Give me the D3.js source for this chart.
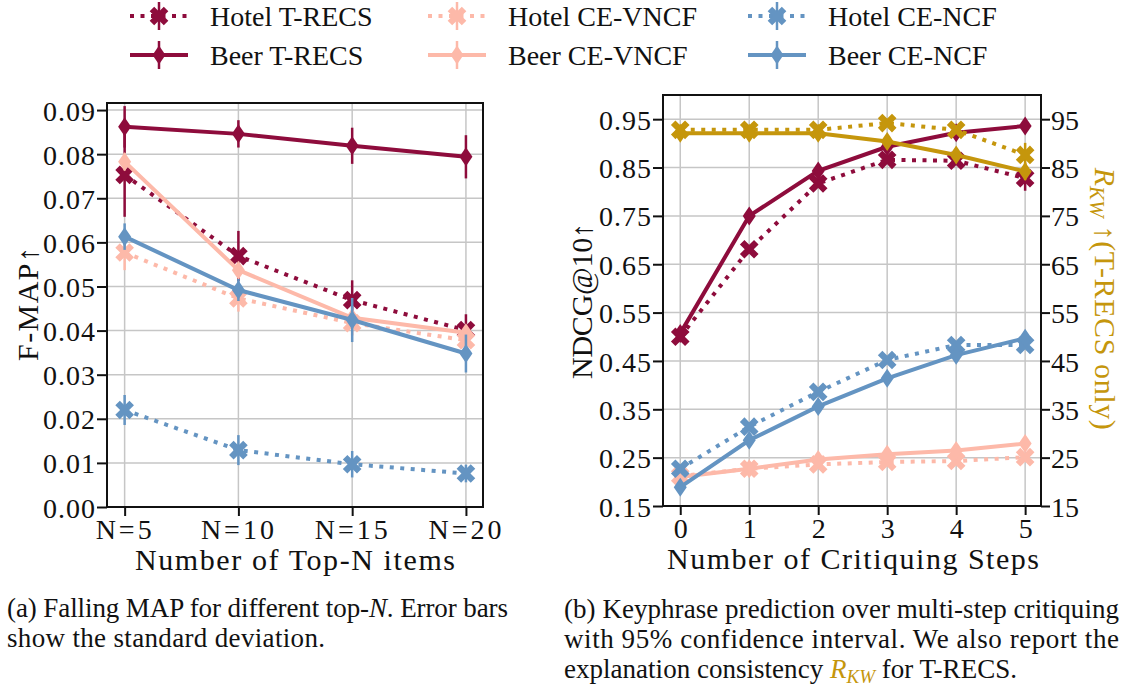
<!DOCTYPE html>
<html>
<head>
<meta charset="utf-8">
<script src="https://cdn.jsdelivr.net/npm/d3@7"></script>
<style>
  body { margin: 0; background: #fff; }
  svg { display: block; }
  text { font-family: "Liberation Serif", "DejaVu Serif", serif; fill: #111; }
  .cap { font-family: "Liberation Serif", serif; font-size: 27px; }
</style>
</head>
<body>
<svg id="chart" width="1130" height="690"></svg>
<script>
var RED = "#8e0c3c"
var PINK = "#fdb9a9"
var BLUE = "#6494c2"
var GOLD = "#c5960c"

// left panel: F-MAP by top-N
var topN = ["N=5", "N=10", "N=15", "N=20"]
var mapHotelTrecs = [0.0753, 0.0569, 0.0469, 0.0401]
var mapHotelTrecsSd = [0.0095, 0.0057, 0.0045, 0.0036]
var mapBeerTrecs = [0.0862, 0.0846, 0.0819, 0.0794]
var mapBeerTrecsSd = [0.0047, 0.0031, 0.0041, 0.0049]
var mapHotelVncf = [0.0577, 0.0473, 0.0417, 0.0378]
var mapHotelVncfSd = [0.0040, 0.0030, 0.0028, 0.0022]
var mapBeerVncf = [0.0783, 0.0537, 0.0429, 0.0395]
var mapBeerVncfSd = [0.0020, 0.0015, 0.0015, 0.0012]
var mapHotelNcf = [0.0220, 0.0129, 0.0097, 0.0076]
var mapHotelNcfSd = [0.0034, 0.0034, 0.0030, 0.0020]
var mapBeerNcf = [0.0613, 0.0492, 0.0424, 0.0348]
var mapBeerNcfSd = [0.0030, 0.0025, 0.0050, 0.0043]
var mapTicks = [0.00, 0.01, 0.02, 0.03, 0.04, 0.05, 0.06, 0.07, 0.08, 0.09]

// right panel: NDCG@10 over critiquing steps
var steps = [0, 1, 2, 3, 4, 5]
var ndcgHotelTrecs = [0.500, 0.681, 0.817, 0.866, 0.864, 0.828]
var ndcgHotelTrecsCi = [0.008, 0.008, 0.008, 0.008, 0.008, 0.026]
var ndcgBeerTrecs = [0.507, 0.750, 0.843, 0.893, 0.922, 0.936]
var ndcgBeerTrecsCi = [0.006, 0.006, 0.006, 0.006, 0.006, 0.008]
var ndcgHotelVncf = [0.212, 0.227, 0.236, 0.241, 0.243, 0.251]
var ndcgHotelVncfCi = [0.006, 0.006, 0.006, 0.006, 0.006, 0.006]
var ndcgBeerVncf = [0.210, 0.227, 0.246, 0.257, 0.265, 0.279]
var ndcgBeerVncfCi = [0.005, 0.005, 0.005, 0.005, 0.005, 0.006]
var ndcgHotelNcf = [0.227, 0.314, 0.386, 0.452, 0.483, 0.483]
var ndcgHotelNcfCi = [0.006, 0.008, 0.008, 0.008, 0.008, 0.008]
var ndcgBeerNcf = [0.189, 0.286, 0.356, 0.414, 0.462, 0.497]
var ndcgBeerNcfCi = [0.008, 0.008, 0.008, 0.008, 0.008, 0.008]
var rkwHotel = [92.8, 92.8, 92.8, 94.2, 92.8, 87.6]
var rkwHotelCi = [0.5, 0.5, 0.5, 0.8, 0.8, 2.5]
var rkwBeer = [92.1, 92.1, 92.1, 90.4, 87.6, 84.2]
var rkwBeerCi = [0.5, 0.5, 0.5, 0.6, 0.8, 1.8]
var ndcgTicks = [0.15, 0.25, 0.35, 0.45, 0.55, 0.65, 0.75, 0.85, 0.95]
var rkwTicks = [15, 25, 35, 45, 55, 65, 75, 85, 95]

var legendItems = [
  {label: "Hotel T-RECS", color: RED, dotted: true},
  {label: "Beer T-RECS", color: RED, dotted: false},
  {label: "Hotel CE-VNCF", color: PINK, dotted: true},
  {label: "Beer CE-VNCF", color: PINK, dotted: false},
  {label: "Hotel CE-NCF", color: BLUE, dotted: true},
  {label: "Beer CE-NCF", color: BLUE, dotted: false}
]

var svg = d3.select("#chart")

// markers: thin diamond for Beer, filled X for Hotel
var diamondPath = "M0,-9.5L6.5,0L0,9.5L-6.5,0Z"
var xPath = (function() {
  var a = 3.2, s = 10
  var pts = [[-a,-s],[a,-s],[a,-a],[s,-a],[s,a],[a,a],[a,s],[-a,s],[-a,a],[-s,a],[-s,-a],[-a,-a]]
  var r = Math.SQRT1_2
  return "M" + pts.map(function(p) { return [(p[0]-p[1])*r, (p[0]+p[1])*r].join(",") }).join("L") + "Z"
})()

var drawSeries = function(g, x, y, xs, vals, errs, color, dotted) {
  var pts = xs.map(function(d, i) { return {x: d, v: vals[i], e: errs[i]} })
  g.append("path")
    .datum(pts)
    .attr("fill", "none")
    .attr("stroke", color)
    .attr("stroke-width", 4)
    .attr("stroke-dasharray", dotted ? "4,6.5" : null)
    .attr("d", d3.line().x(function(d) { return x(d.x) }).y(function(d) { return y(d.v) }))
  g.selectAll(null).data(pts).enter().append("line")
    .attr("x1", function(d) { return x(d.x) })
    .attr("x2", function(d) { return x(d.x) })
    .attr("y1", function(d) { return y(d.v - d.e) })
    .attr("y2", function(d) { return y(d.v + d.e) })
    .attr("stroke", color)
    .attr("stroke-width", 2.5)
  g.selectAll(null).data(pts).enter().append("path")
    .attr("transform", function(d) { return "translate(" + x(d.x) + "," + y(d.v) + ")" })
    .attr("d", dotted ? xPath : diamondPath)
    .attr("fill", color)
}

var drawFrame = function(x, y, xTicks, xFmt, yTicks, yFmt) {
  var x0 = x.range()[0], x1 = x.range()[1], y0 = y.range()[0], y1 = y.range()[1]
  var grid = svg.append("g").attr("stroke", "#c6c6c6").attr("stroke-width", 1.5)
  xTicks.forEach(function(t) {
    grid.append("line").attr("x1", x(t)).attr("x2", x(t)).attr("y1", y0).attr("y2", y1)
  })
  yTicks.forEach(function(t) {
    grid.append("line").attr("x1", x0).attr("x2", x1).attr("y1", y(t)).attr("y2", y(t))
  })
  var xAxis = d3.axisBottom(x).tickValues(xTicks).tickFormat(xFmt).tickSize(9).tickPadding(1)
  var yAxis = d3.axisLeft(y).tickValues(yTicks).tickFormat(yFmt).tickSize(10).tickPadding(1)
  var gx = svg.append("g").attr("transform", "translate(0," + y0 + ")").call(xAxis)
  var gy = svg.append("g").attr("transform", "translate(" + x0 + ",0)").call(yAxis)
  ;[gx, gy].forEach(function(a) {
    a.select(".domain").remove()
    a.selectAll("line").attr("stroke", "#111").attr("stroke-width", 2)
    a.selectAll("text").attr("font-size", 28).attr("fill", "#111")
      .style("font-family", "'Liberation Serif', serif")
  })
  gx.selectAll("text").attr("dy", "0.78em")
  gy.selectAll("text").attr("dy", "0.36em").style("letter-spacing", "1px")
  return {gx: gx, gy: gy}
}

var drawBox = function(x, y) {
  svg.append("rect")
    .attr("x", x.range()[0]).attr("y", y.range()[1])
    .attr("width", x.range()[1] - x.range()[0])
    .attr("height", y.range()[0] - y.range()[1])
    .attr("fill", "none").attr("stroke", "#111").attr("stroke-width", 2)
}

// ---- left panel
var xL = d3.scaleLinear().domain([-0.155, 3.15]).range([107, 483])
var yL = d3.scaleLinear().domain([0, 0.0916]).range([507, 103])
var idx = topN.map(function(d, i) { return i })
var frL = drawFrame(xL, yL, idx, function(d) { return topN[d] }, mapTicks, d3.format(".2f"))
frL.gx.selectAll("text").style("letter-spacing", "3px")
var gL = svg.append("g")
drawSeries(gL, xL, yL, idx, mapHotelTrecs, mapHotelTrecsSd, RED, true)
drawSeries(gL, xL, yL, idx, mapBeerTrecs, mapBeerTrecsSd, RED, false)
drawSeries(gL, xL, yL, idx, mapHotelVncf, mapHotelVncfSd, PINK, true)
drawSeries(gL, xL, yL, idx, mapBeerVncf, mapBeerVncfSd, PINK, false)
drawSeries(gL, xL, yL, idx, mapHotelNcf, mapHotelNcfSd, BLUE, true)
drawSeries(gL, xL, yL, idx, mapBeerNcf, mapBeerNcfSd, BLUE, false)
drawBox(xL, yL)

svg.append("text")
  .attr("x", 295).attr("y", 570)
  .attr("text-anchor", "middle").attr("font-size", 30)
  .attr("textLength", 320).attr("lengthAdjust", "spacing")
  .text("Number of Top-N items")
svg.append("text")
  .attr("transform", "translate(38,304) rotate(-90)")
  .attr("text-anchor", "middle").attr("font-size", 30)
  .attr("textLength", 114).attr("lengthAdjust", "spacing")
  .text("F-MAP\u2191")

// ---- right panel
var xR = d3.scaleLinear().domain([-0.25, 5.23]).range([663, 1041])
var yR = d3.scaleLinear().domain([0.15, 1.0]).range([506, 95])
var yR2 = d3.scaleLinear().domain([15, 100]).range([506, 95])
drawFrame(xR, yR, steps, d3.format("d"), ndcgTicks, d3.format(".2f"))
var gyr = svg.append("g").attr("transform", "translate(1041,0)")
  .call(d3.axisRight(yR2).tickValues(rkwTicks).tickSize(9).tickPadding(1))
gyr.select(".domain").remove()
gyr.selectAll("line").attr("stroke", "#111").attr("stroke-width", 2)
gyr.selectAll("text").attr("font-size", 28).attr("fill", GOLD).attr("dy", "0.36em")
  .style("font-family", "'Liberation Serif', serif")

var gR = svg.append("g")
drawSeries(gR, xR, yR, steps, ndcgHotelTrecs, ndcgHotelTrecsCi, RED, true)
drawSeries(gR, xR, yR, steps, ndcgBeerTrecs, ndcgBeerTrecsCi, RED, false)
drawSeries(gR, xR, yR, steps, ndcgHotelVncf, ndcgHotelVncfCi, PINK, true)
drawSeries(gR, xR, yR, steps, ndcgBeerVncf, ndcgBeerVncfCi, PINK, false)
drawSeries(gR, xR, yR, steps, ndcgHotelNcf, ndcgHotelNcfCi, BLUE, true)
drawSeries(gR, xR, yR, steps, ndcgBeerNcf, ndcgBeerNcfCi, BLUE, false)
drawSeries(gR, xR, yR2, steps, rkwHotel, rkwHotelCi, GOLD, true)
drawSeries(gR, xR, yR2, steps, rkwBeer, rkwBeerCi, GOLD, false)
drawBox(xR, yR)

svg.append("text")
  .attr("x", 853).attr("y", 569)
  .attr("text-anchor", "middle").attr("font-size", 30)
  .attr("textLength", 372).attr("lengthAdjust", "spacing")
  .text("Number of Critiquing Steps")
svg.append("text")
  .attr("transform", "translate(592,301) rotate(-90)")
  .attr("text-anchor", "middle").attr("font-size", 30)
  .attr("textLength", 156).attr("lengthAdjust", "spacing")
  .text("NDCG@10\u2191")
var rl = svg.append("text")
  .attr("transform", "translate(1095,299) rotate(90)")
  .attr("text-anchor", "middle").attr("font-size", 30)
  .style("fill", GOLD)
rl.append("tspan").attr("font-style", "italic").text("R")
rl.append("tspan").attr("font-style", "italic").attr("font-size", 21).attr("dy", 5).text("KW")
rl.append("tspan").attr("dy", -5).style("letter-spacing", "0.6px").text(" \u2191(T-RECS only)")

// ---- legend
var colX = [130, 428, 748]
var rowY = [16, 55]
legendItems.forEach(function(d, i) {
  var cx = colX[Math.floor(i / 2)], cy = rowY[i % 2]
  var g = svg.append("g")
  g.append("line")
    .attr("x1", cx).attr("x2", cx + 58).attr("y1", cy).attr("y2", cy)
    .attr("stroke", d.color).attr("stroke-width", 4)
    .attr("stroke-dasharray", d.dotted ? "4,6.5" : null)
  g.append("line")
    .attr("x1", cx + 29).attr("x2", cx + 29).attr("y1", cy - 14).attr("y2", cy + 14)
    .attr("stroke", d.color).attr("stroke-width", 2.5)
  g.append("path")
    .attr("transform", "translate(" + (cx + 29) + "," + cy + ")")
    .attr("d", d.dotted ? xPath : diamondPath)
    .attr("fill", d.color)
  g.append("text")
    .attr("x", cx + 80).attr("y", cy + 10)
    .attr("font-size", 28)
    .text(d.label)
})

// ---- captions (justified lines stretched to the column width)
var capA = svg.append("text").attr("class", "cap").attr("x", 7).attr("y", 617)
  .attr("textLength", 501).attr("lengthAdjust", "spacing")
capA.append("tspan").text("(a) Falling MAP for different top-")
capA.append("tspan").attr("font-style", "italic").text("N")
capA.append("tspan").text(". Error bars")
svg.append("text").attr("class", "cap").attr("x", 7).attr("y", 647)
  .attr("textLength", 318).attr("lengthAdjust", "spacing")
  .text("show the standard deviation.")

svg.append("text").attr("class", "cap").attr("x", 564).attr("y", 618)
  .attr("textLength", 555).attr("lengthAdjust", "spacing")
  .text("(b) Keyphrase prediction over multi-step critiquing")
svg.append("text").attr("class", "cap").attr("x", 564).attr("y", 648)
  .attr("textLength", 555).attr("lengthAdjust", "spacing")
  .text("with 95% confidence interval.  We also report the")
var capB = svg.append("text").attr("class", "cap").attr("x", 564).attr("y", 678)
  .attr("textLength", 453).attr("lengthAdjust", "spacing")
capB.append("tspan").text("explanation consistency ")
capB.append("tspan").attr("font-style", "italic").style("fill", GOLD).text("R")
capB.append("tspan").attr("font-style", "italic").style("fill", GOLD)
  .attr("font-size", 19).attr("dy", 5).text("KW")
capB.append("tspan").attr("dy", -5).text(" for T-RECS.")
</script>
</body>
</html>
